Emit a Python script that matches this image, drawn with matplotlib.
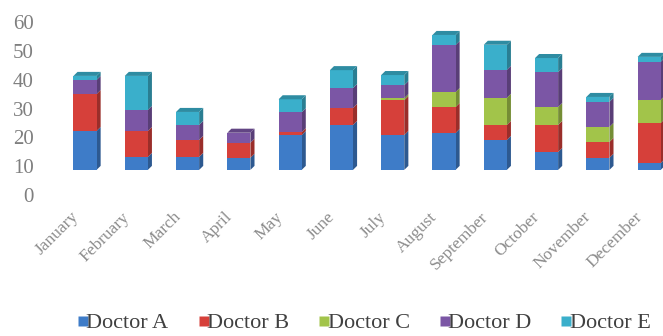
import matplotlib
matplotlib.use("Agg")
import matplotlib.pyplot as plt
from matplotlib.patches import Polygon
from matplotlib.lines import Line2D
import matplotlib.colors as mcolors
import matplotlib.transforms as mtransforms
import numpy as np

months = ["January", "February", "March", "April", "May", "June", "July",
          "August", "September", "October", "November", "December"]
series = ["Doctor A", "Doctor B", "Doctor C", "Doctor D", "Doctor E"]
doctor_a = [13.5, 4.5, 4.5, 4.2, 12.1, 15.6, 12.1, 12.8, 10.4, 6.2, 4.2, 2.4]
doctor_b = [12.8, 9.0, 5.9, 5.2, 1.0, 5.9, 12.1, 9.0, 5.2, 9.4, 5.5, 13.9]
doctor_c = [0.0, 0.0, 0.0, 0.0, 0.0, 0.0, 0.7, 5.2, 9.4, 6.2, 5.2, 8.0]
doctor_d = [4.9, 7.3, 5.2, 3.5, 6.9, 6.9, 4.5, 16.3, 9.7, 12.1, 8.7, 13.2]
doctor_e = [1.4, 11.8, 4.5, 0.0, 4.5, 6.2, 3.5, 3.5, 8.7, 4.9, 1.7, 1.7]
y_ticks = [0, 10, 20, 30, 40, 50, 60]

colors = ["#3E7CC8", "#D6403A", "#A2C44A", "#7B56A5", "#3AAFCB"]
data = [doctor_a, doctor_b, doctor_c, doctor_d, doctor_e]

W, H = 663, 336
fig = plt.figure(figsize=(W / 100, H / 100), dpi=100)
ax_left, ax_right = 45 / W, 1.0
ax_bottom, ax_top = 1 - 195 / H, 1 - 22 / H
ax = fig.add_axes([ax_left, ax_bottom, ax_right - ax_left, ax_top - ax_bottom])

floor = 8.7
bar_w = 0.45
dx, dy = 0.08, 1.4

def darken(c, f):
    r, g, b = mcolors.to_rgb(c)
    return (r * f, g * f, b * f)

x = np.arange(len(months))
bottoms = np.full(len(months), floor)
for vals, col, name in zip(data, colors, series):
    vals = np.array(vals)
    bars = ax.bar(x, vals, bar_w, bottom=bottoms, color=col, edgecolor="none",
                  zorder=2, label=name)
    for b, v in zip(bars, vals):
        if v <= 0:
            continue
        x1 = b.get_x() + b.get_width()
        y0 = b.get_y()
        y1 = y0 + b.get_height()
        side = Polygon([(x1, y0), (x1 + dx, y0 + dy), (x1 + dx, y1 + dy), (x1, y1)],
                       closed=True, facecolor=darken(col, 0.72), edgecolor="none", zorder=1.5)
        ax.add_patch(side)
    bottoms = bottoms + vals

# top faces
for i in range(len(months)):
    top_col = None
    for vals, col in zip(data, colors):
        if vals[i] > 0:
            top_col = col
    x0 = x[i] - bar_w / 2
    x1 = x[i] + bar_w / 2
    yt = bottoms[i]
    top = Polygon([(x0, yt), (x0 + dx, yt + dy), (x1 + dx, yt + dy), (x1, yt)],
                  closed=True, facecolor=darken(top_col, 0.8), edgecolor="none", zorder=2.5)
    ax.add_patch(top)

ax.set_xlim(-0.78, 11.27)
ax.set_ylim(0, 60)
ax.set_yticks(y_ticks)
ax.set_yticklabels([str(t) for t in y_ticks], family="Liberation Serif",
                   fontsize=15, color="#7F7F7F")
ax.tick_params(axis="y", length=0, pad=8)
ax.set_xticks([])
for s in ax.spines.values():
    s.set_visible(False)

# rotated month labels
trans = mtransforms.blended_transform_factory(ax.transData, ax.transAxes)
for i, m in enumerate(months):
    ax.text(x[i] - 0.07, -0.08, m, transform=trans, rotation=45, ha="right", va="top",
            family="Liberation Serif", fontsize=12.5, color="#8C8C8C")

handles = [Line2D([0], [0], marker="s", linestyle="none", markersize=7,
                  markerfacecolor=c, markeredgecolor="none") for c in colors]
fig.legend(handles, series, loc="center", bbox_to_anchor=(0.545, 1 - 323 / H), ncol=5,
           frameon=False, handletextpad=-0.35, columnspacing=1.08, handlelength=1.0,
           borderpad=0, prop={"family": "Liberation Serif", "size": 16}, labelcolor="#404040")

fig.savefig("out.png", dpi=100)
